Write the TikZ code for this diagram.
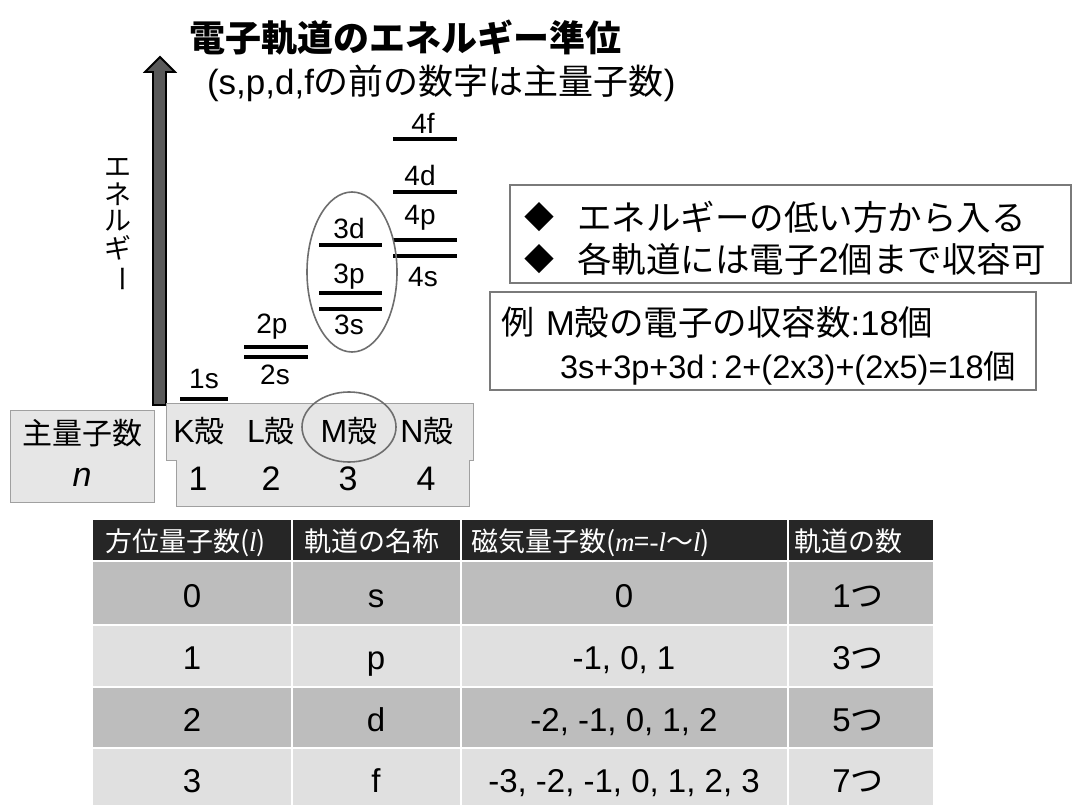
\documentclass[tikz,border=0pt]{standalone}
\usepackage{fontspec}
\setmainfont{Noto Sans CJK JP}
\newfontfamily\lat{Liberation Sans}
\newfontfamily\serifit{Liberation Serif}
\definecolor{arrowgray}{HTML}{595959}
\definecolor{ringgray}{HTML}{6E6E6E}
\definecolor{boxfill}{HTML}{E6E6E6}
\definecolor{boxline}{HTML}{A0A0A0}
\definecolor{hdr}{HTML}{262626}
\definecolor{rowA}{HTML}{BDBDBD}
\definecolor{rowB}{HTML}{E0E0E0}
\definecolor{frame}{HTML}{7A7A7A}
\newcommand{\fs}[1]{\fontsize{#1}{#1}\selectfont}
\begin{document}
\begin{tikzpicture}[x=1pt,y=-1pt,
  txt/.style={inner sep=0pt,outer sep=0pt},
  lvl/.style={line width=3.5pt,black},
  lvllab/.style={txt,font=\lat\fs{28}},
  ring/.style={draw=ringgray,line width=1.6pt},
  shell/.style={txt,font=\fs{30}},
  vchar/.style={txt,font=\fs{27}},
  hcell/.style={txt,anchor=base west,text=white,font=\fs{27}},
  bcell/.style={txt,anchor=base,font=\lat\fs{33}},
  note/.style={txt,anchor=west,font=\fs{34.5}},
  framebox/.style={draw=frame,line width=1.4pt}]
\useasboundingbox (0,0) rectangle (1073,805);

% title
\node[txt,font=\fs{36}\bfseries] (title) at (405,38) {電子軌道のエネルギー準位};
\node[txt,font=\fs{35},anchor=west] (sub) at (207,83) {{\lat (s,p,d,f}の前の数字は主量子数{\lat )}};

% energy arrow
\filldraw[fill=arrowgray,draw=black,line width=1.8pt,line join=miter]
  (153,405) -- (153,72) -- (145,72) -- (160,57) -- (175,72) -- (166,72) -- (166,405) -- cycle;
\node[vchar] (e1) at (118,167) {エ};
\node[vchar] (e2) at (118,194) {ネ};
\node[vchar] (e3) at (118,221) {ル};
\node[vchar] (e4) at (118,248) {ギ};
\node[vchar,rotate=-90] (e5) at (118,279) {ー};

% levels
\coordinate (k1a) at (180,399); \coordinate (k1b) at (228,399);
\coordinate (l2pa) at (244,347); \coordinate (l2pb) at (308,347);
\coordinate (l2sa) at (244,357); \coordinate (l2sb) at (308,357);
\coordinate (m3da) at (319,245); \coordinate (m3db) at (382,245);
\coordinate (m3pa) at (319,293); \coordinate (m3pb) at (382,293);
\coordinate (m3sa) at (319,309); \coordinate (m3sb) at (382,309);
\coordinate (n4fa) at (393,139); \coordinate (n4fb) at (457,139);
\coordinate (n4da) at (393,192); \coordinate (n4db) at (457,192);
\coordinate (n4pa) at (393,240); \coordinate (n4pb) at (457,240);
\coordinate (n4sa) at (393,256); \coordinate (n4sb) at (457,256);
\foreach \a/\b in {k1a/k1b,l2pa/l2pb,l2sa/l2sb,m3da/m3db,m3pa/m3pb,m3sa/m3sb,n4fa/n4fb,n4da/n4db,n4pa/n4pb,n4sa/n4sb}
  \draw[lvl] (\a) -- (\b);
\node[lvllab] (t1s) at (204,379) {1s};
\node[lvllab] (t2p) at (272,327) {2p};
\node[lvllab] (t2s) at (275,375) {2s};
\node[lvllab] (t3d) at (349,228) {3d};
\node[lvllab] (t3p) at (349,277) {3p};
\node[lvllab] (t3s) at (349,325) {3s};
\node[lvllab] (t4f) at (423,123) {4f};
\node[lvllab] (t4d) at (420,175) {4d};
\node[lvllab] (t4p) at (420,218) {4p};
\node[lvllab] (t4s) at (423,277) {4s};
\draw[ring] (352,272) ellipse [x radius=45, y radius=80];

% principal quantum number boxes
\filldraw[fill=boxfill,draw=boxline,line width=1pt] (10,410) rectangle (154,502);
\node[txt,font=\fs{30}] (pq) at (82,433) {主量子数};
\node[txt,font=\lat\fs{34}\itshape] (pn) at (82,477) {n};
\filldraw[fill=boxfill,draw=boxline,line width=1pt]
  (166,403) -- (473,403) -- (473,460) -- (469,460) -- (469,506) -- (176,506) -- (176,460) -- (166,460) -- cycle;
\node[shell] (K) at (199,431) {{\lat\fs{32}K}殻};
\node[shell] (L) at (271,431) {{\lat\fs{32}L}殻};
\node[shell] (M) at (349,431) {{\lat\fs{32}M}殻};
\node[shell] (N) at (427,431) {{\lat\fs{32}N}殻};
\node[shell,font=\lat\fs{34}] (n1) at (198,479) {1};
\node[shell,font=\lat\fs{34}] (n2) at (271,479) {2};
\node[shell,font=\lat\fs{34}] (n3) at (348,479) {3};
\node[shell,font=\lat\fs{34}] (n4) at (426,479) {4};
\draw[ring] (349,427) ellipse [x radius=47, y radius=35];

% rule boxes
\draw[framebox] (510,185) rectangle (1071,283);
\node[txt,font=\fs{30}] (d1) at (539,217) {◆};
\node[note] (r1) at (577,217) {エネルギーの低い方から入る};
\node[txt,font=\fs{30}] (d2) at (539,259) {◆};
\node[note] (r2) at (577,259) {各軌道には電子{\lat\fs{36}2}個まで収容可};
\draw[framebox] (490,292) rectangle (1036,390);
\node[note,font=\fs{33}] (ex) at (501,322) {例};
\node[note,font=\fs{34.5}] (ex1) at (546,322) {{\lat M}殻の電子の収容数{\lat :18}個};
\node[note,font=\fs{32.5}] (ex2) at (560,368) {{\lat 3s+3p+3d\,:\,2+(2x3)+(2x5)=18}個};

% table
\fill[hdr] (93,520) rectangle (933,561);
\fill[rowA] (93,561) rectangle (933,625);
\fill[rowB] (93,625) rectangle (933,687);
\fill[rowA] (93,687) rectangle (933,748);
\fill[rowB] (93,748) rectangle (933,805);
\foreach \x in {292,461,788} \draw[white,line width=2pt] (\x,520) -- (\x,805);
\foreach \y in {561,625,687,748} \draw[white,line width=2.5pt] (93,\y) -- (933,\y);
\node[hcell] (h1) at (105,551) {方位量子数({\serifit\itshape l})};
\node[hcell] (h2) at (304,551) {軌道の名称};
\node[hcell] (h3) at (471,551) {磁気量子数({\serifit\itshape m}={\serifit -\itshape l}〜{\serifit\itshape l})};
\node[hcell] (h4) at (794,551) {軌道の数};
\foreach \r/\yy/\a/\b/\c/\d in {1/607/0/s/0/1, 2/669/1/p/{-1, 0, 1}/3, 3/731/2/d/{-2, -1, 0, 1, 2}/5, 4/792/3/f/{-3, -2, -1, 0, 1, 2, 3}/7}{
  \node[bcell] (c\r a) at (192,\yy) {\a};
  \node[bcell] (c\r b) at (376,\yy) {\b};
  \node[bcell] (c\r c) at (624,\yy) {\c};
  \node[bcell] (c\r d) at (858,\yy) {\d{\rmfamily つ}};
}
\end{tikzpicture}
\end{document}
